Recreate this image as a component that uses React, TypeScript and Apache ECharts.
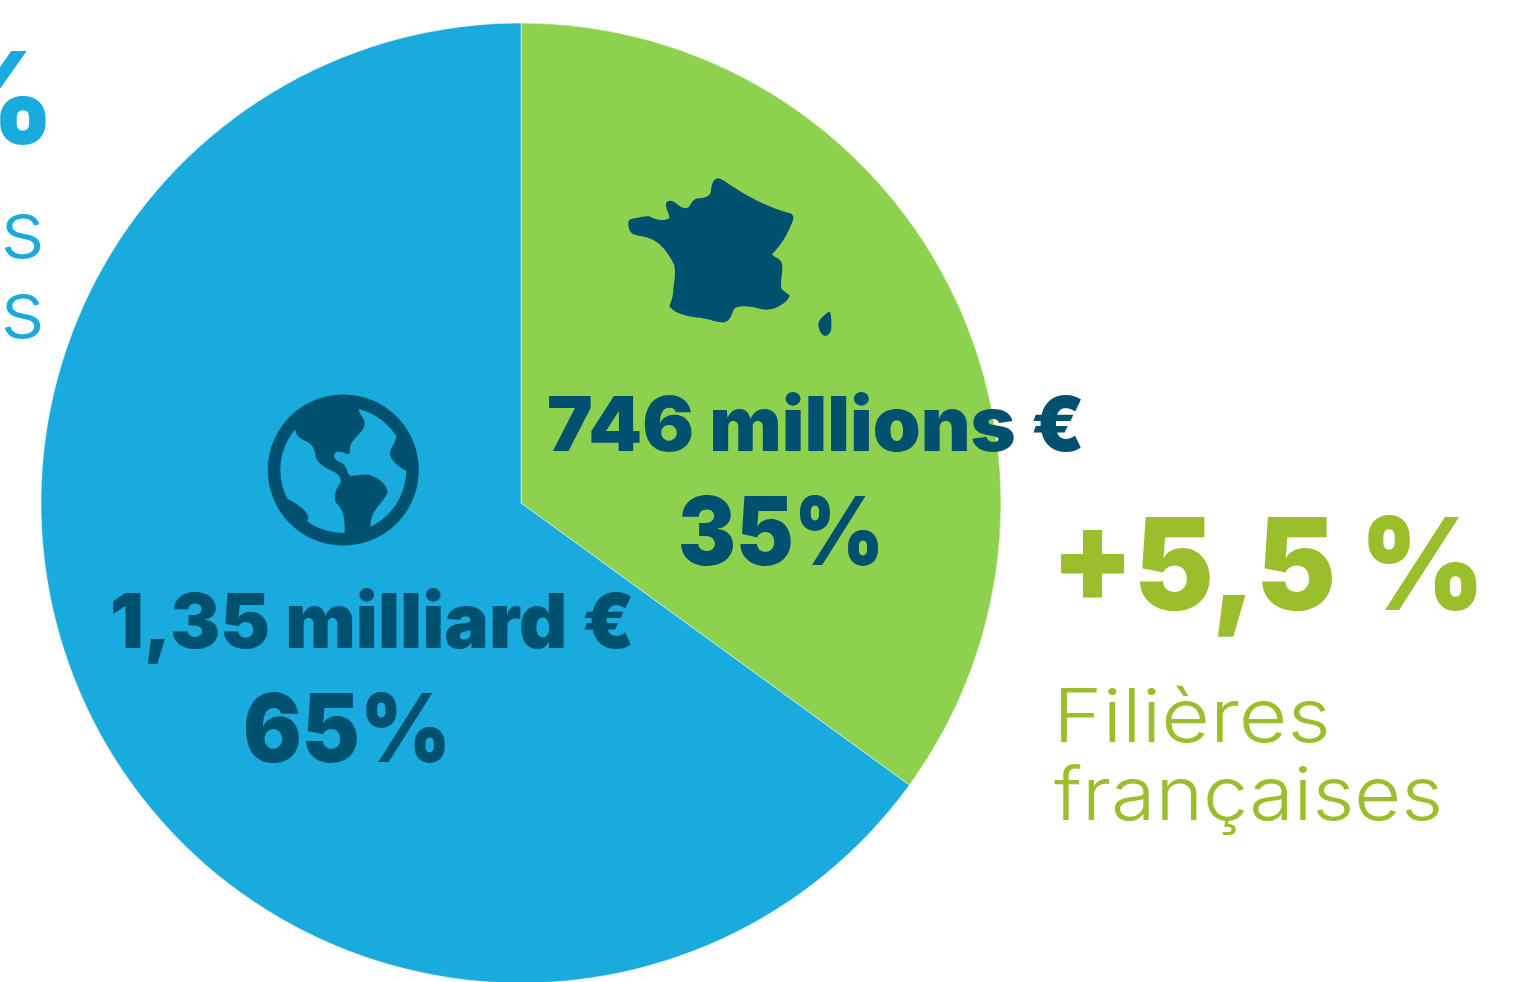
import React, { useEffect, useRef } from "react";
import * as echarts from "echarts";

const categories = ["Filières françaises", "Filières étrangères"];
const shareValues = [35, 65];
const sliceColors = ["#8ED14F", "#19AADE"];

const DARK = "#00506F";
const LIME = "#9BBF2C";
const BLUE = "#19AADE";
const FONT = "Inter, 'Noto Sans', sans-serif";

// text, left, target width, centre y of the line, font size, weight, colour
const textRows: [string, number, number, number, number, number, string][] = [
  ["746 millions €", 547, 538, 423, 76, 900, DARK],
  ["35%", 678, 206, 531, 95, 900, DARK],
  ["1,35 milliard €", 110, 525, 620, 76, 900, DARK],
  ["65%", 243, 208, 728, 95, 900, DARK],
  ["+5,5 %", 1051, 434, 564, 128, 900, LIME],
  ["Filières", 1053, 278, 715, 74, 300, LIME],
  ["françaises", 1054, 389, 793, 74, 300, LIME],
  ["%", -82, 137, 97, 128, 900, BLUE],
  ["s", 0, 45, 229, 80, 300, BLUE],
  ["s", 0, 45, 309, 80, 300, BLUE],
];

const FRANCE =
  "M55,175 C55,165 60,162 75,160 C90,158 105,152 120,155 C135,165 160,170 178,160 C180,145 162,125 170,112 C178,103 190,108 200,116 C210,124 225,135 235,128 C245,118 245,103 265,100 C280,98 298,98 303,80 C305,60 308,42 325,40 C340,42 350,55 380,72 C420,97 470,125 540,145 C552,150 553,158 548,170 C535,205 515,240 487,268 C495,280 515,280 517,300 C520,325 510,345 515,370 C520,380 535,385 540,393 C535,405 525,415 510,423 C490,435 470,437 450,432 C425,425 395,420 375,430 C365,440 365,470 340,473 C310,470 290,460 260,458 C230,455 195,445 178,425 C185,405 190,395 190,370 C195,340 197,320 193,300 C180,275 165,250 145,235 C120,215 90,215 70,208 C58,200 55,190 55,175 Z M626,475 C630,460 645,450 658,440 C665,445 665,465 665,490 C662,510 648,518 638,510 C630,500 625,490 626,475 Z";

const CONTINENTS =
  "M120,130 C122,155 135,160 155,170 C175,180 180,195 182,215 C190,240 215,250 240,262 C255,270 262,285 255,297 C240,315 235,340 245,355 C265,375 270,395 270,450 L348,445 C345,425 347,405 355,385 C370,360 395,340 398,320 C395,300 375,280 345,270 C320,265 300,275 285,272 C275,265 278,245 262,235 C250,228 235,225 238,208 C245,195 260,200 270,205 C280,210 285,210 285,195 C283,178 295,165 310,150 C325,135 335,120 325,100 C318,90 310,80 312,70 L265,30 C200,40 150,80 120,130 Z M425,155 C420,180 400,195 407,215 C420,240 440,250 455,258 L470,200 C460,185 440,165 425,155 Z M90,338 C115,350 150,370 160,395 C160,405 155,410 155,415 L120,395 C100,370 95,350 90,338 Z";

echarts.graphic.registerShape("franceMap", echarts.graphic.extendPath(FRANCE, {}) as any);
echarts.graphic.registerShape("continents", echarts.graphic.extendPath(CONTINENTS, {}) as any);

function fitScale(text: string, size: number, weight: number, target: number) {
  const ctx = document.createElement("canvas").getContext("2d")!;
  ctx.font = `${weight} ${size}px Inter`;
  return target / ctx.measureText(text).width;
}

export default function App() {
  const ref = useRef<HTMLDivElement>(null);
  useEffect(() => {
    document.body.style.margin = "0";
    document.body.style.overflow = "hidden";
    const chart = echarts.init(ref.current!, undefined, { renderer: "svg" });
    chart.setOption({
      animation: false,
      backgroundColor: "#FFFFFF",
      series: [
        {
          type: "pie",
          center: [521, 503],
          radius: [0, 480],
          startAngle: 90,
          clockwise: true,
          silent: true,
          label: { show: false },
          labelLine: { show: false },
          itemStyle: { borderColor: "#FFFFFF", borderWidth: 0.5 },
          data: categories.map((name, i) => ({
            name,
            value: shareValues[i],
            itemStyle: { color: sliceColors[i] },
          })),
        },
      ],
      graphic: {
        elements: [
          { type: "franceMap", x: 610, y: 165, scaleX: 1 / 3, scaleY: 1 / 3, z: 10, style: { fill: DARK } },
          { type: "ring", shape: { cx: 343.3, cy: 470, r: 75.5, r0: 63 }, z: 10, style: { fill: DARK } },
          { type: "continents", x: 255, y: 385, scaleX: 1 / 3, scaleY: 1 / 3, z: 10, style: { fill: DARK } },
          ...textRows.map(([text, x, w, y, size, weight, color]) => ({
            type: "text",
            x,
            y,
            scaleX: fitScale(text, size, weight, w),
            z: 11,
            style: {
              text,
              x: 0,
              y: 0,
              fill: color,
              font: `${weight} ${size}px ${FONT}`,
              textAlign: "left",
              textVerticalAlign: "middle",
            },
          })),
        ],
      },
    });
    return () => chart.dispose();
  }, []);
  return <div ref={ref} style={{ width: 1524, height: 982 }} />;
}
